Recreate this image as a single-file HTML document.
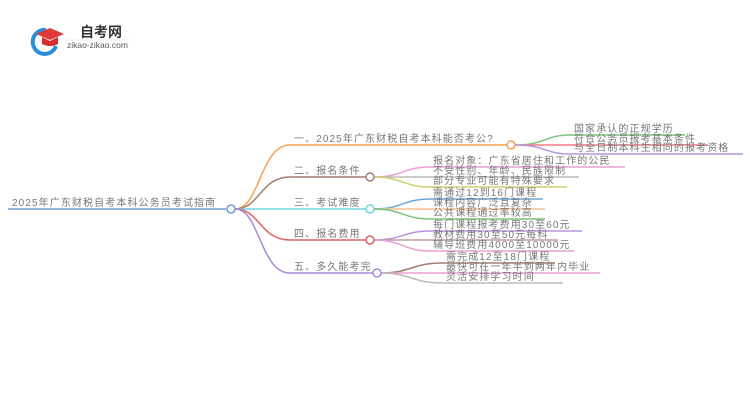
<!DOCTYPE html>
<html><head><meta charset="utf-8"><style>
html,body{margin:0;padding:0;background:#fff;width:750px;height:410px;overflow:hidden}
svg text{font-family:"Liberation Sans","Noto Sans CJK SC",sans-serif;font-size:10px;letter-spacing:1.1px;fill:#777}
</style></head><body>
<svg width="750" height="410" xmlns="http://www.w3.org/2000/svg">
<g transform="translate(0,0)">
<path d="M46 30 A12 12 0 1 0 56 46" stroke="#2a8fd8" stroke-width="4" fill="none"/>
<path d="M36 34 L50 28 L64 34 L50 40 Z" fill="#e03b3b"/>
<path d="M42 37 L42 44 Q50 48 58 44 L58 37 L50 41 Z" fill="#d62f2f"/>
<text x="80" y="37" style="font-size:14px;font-weight:bold;fill:#333;letter-spacing:0">自考网</text>
<line x1="66" y1="40" x2="130" y2="40" stroke="#ddd" stroke-width="0.6"/>
<text x="67" y="48" style="font-size:8.5px;fill:#555;letter-spacing:0">zikao-zikao.com</text>
</g>
<g fill="none" stroke-width="1.5">
<path d="M8 209 H226" stroke="#6a9fd4"/>
<path d="M235 209 C260 209 260 145 290 145 H507" stroke="#f9a152"/>
<path d="M235 209 C260 209 260 177 290 177 H366" stroke="#a57c6e"/>
<path d="M235 209 H366" stroke="#6fd6e0"/>
<path d="M235 209 C260 209 260 240 290 240 H366" stroke="#e06060"/>
<path d="M235 209 C260 209 260 273 290 273 H373" stroke="#a98ad6"/>
<path d="M515 145 C545 145 545 135 570 135 H685" stroke="#7cc47c"/>
<path d="M515 145 H708" stroke="#f07a8a"/>
<path d="M515 145 C545 145 545 154 570 154 H743" stroke="#b896dc"/>
<path d="M373 177 C403 177 403 167 430 167 H625" stroke="#e9a0d4"/>
<path d="M373 177 H579" stroke="#bbb"/>
<path d="M373 177 C403 177 403 187 430 187 H567" stroke="#d0d070"/>
<path d="M373 209 C403 209 403 199 430 199 H543" stroke="#6fa8d8"/>
<path d="M373 209 H545" stroke="#f9c090"/>
<path d="M373 209 C403 209 403 219 430 219 H545" stroke="#7cc47c"/>
<path d="M373 240 C403 240 403 231 430 231 H582" stroke="#b896dc"/>
<path d="M373 240 H558" stroke="#c0a098"/>
<path d="M373 240 C403 240 403 251 430 251 H574" stroke="#e9a0d4"/>
<path d="M381 273 C411 273 411 263 443 263 H555" stroke="#a57c6e"/>
<path d="M381 273 H600" stroke="#e9a0d4"/>
<path d="M381 273 C411 273 411 283 443 283 H563" stroke="#bbb"/>
</g>
<g fill="#fff" stroke-width="1.5">
<circle cx="231" cy="209" r="4" stroke="#6a9fd4"/>
<circle cx="511" cy="145" r="4" stroke="#f9a152"/>
<circle cx="370" cy="177" r="4" stroke="#a57c6e"/>
<circle cx="370" cy="209" r="4" stroke="#6fd6e0"/>
<circle cx="370" cy="240" r="4" stroke="#e06060"/>
<circle cx="377" cy="273" r="4" stroke="#a98ad6"/>
</g>
<text x="12" y="206">2025年广东财税自考本科公务员考试指南</text>
<text x="294" y="142">一、2025年广东财税自考本科能否考公?</text>
<text x="294" y="174">二、报名条件</text>
<text x="294" y="206">三、考试难度</text>
<text x="294" y="237">四、报名费用</text>
<text x="294" y="270">五、多久能考完</text>
<text x="574" y="132">国家承认的正规学历</text>
<text x="574" y="142">符合公务员报考基本条件</text>
<text x="574" y="151">与全日制本科生相同的报考资格</text>
<text x="433" y="164">报名对象：广东省居住和工作的公民</text>
<text x="433" y="174">不受性别、年龄、民族限制</text>
<text x="433" y="184">部分专业可能有特殊要求</text>
<text x="433" y="196">需通过12到16门课程</text>
<text x="433" y="206">课程内容广泛且复杂</text>
<text x="433" y="216">公共课程通过率较高</text>
<text x="433" y="228">每门课程报考费用30至60元</text>
<text x="433" y="238">教材费用30至50元每科</text>
<text x="433" y="248">辅导班费用4000至10000元</text>
<text x="446" y="260">需完成12至18门课程</text>
<text x="446" y="270">最快可在一年半到两年内毕业</text>
<text x="446" y="280">灵活安排学习时间</text>
</svg>
</body></html>
